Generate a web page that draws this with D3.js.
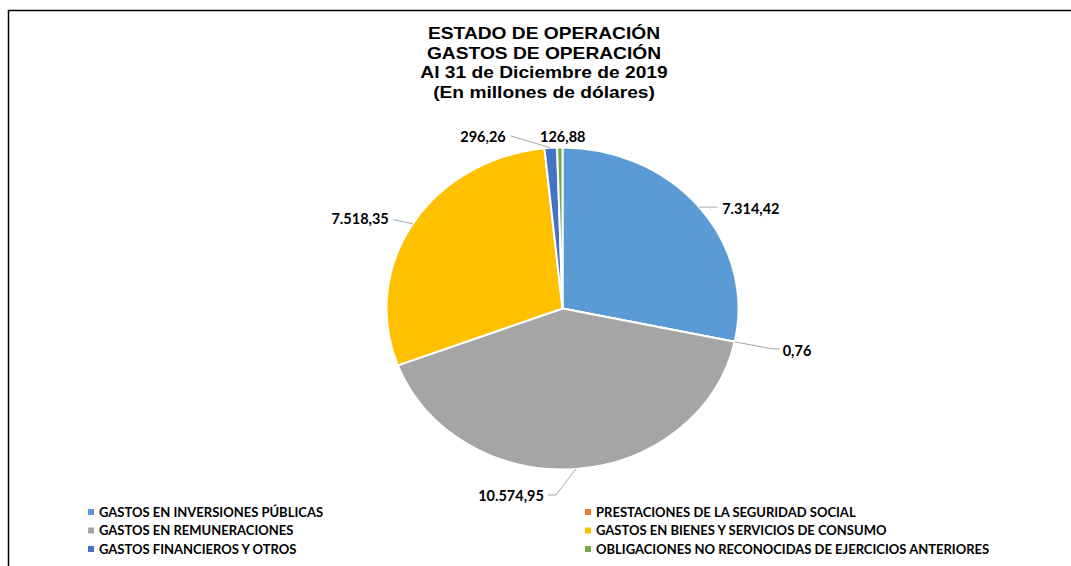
<!DOCTYPE html>
<html lang="es">
<head>
<meta charset="UTF-8">
<title>Estado de Operación - Gastos de Operación 2019</title>
<script src="https://d3js.org/d3.v7.min.js"></script>
<style>
  html, body { margin: 0; padding: 0; background: #fff; }
  svg { display: block; }
  .title { font-family: "Liberation Sans", Arial, sans-serif; font-weight: bold; font-size: 16px; fill: #000; }
  .lbl { font-family: Lato, "Open Sans", sans-serif; font-weight: bold; font-size: 14.5px; fill: #000; }
  .leg { font-family: Lato, "Open Sans", sans-serif; font-weight: bold; font-size: 13px; fill: #000; }
</style>
</head>
<body>
<div id="chart"></div>
<script>
// data
const categories = [
  "GASTOS EN INVERSIONES PÚBLICAS",
  "PRESTACIONES DE LA SEGURIDAD SOCIAL",
  "GASTOS EN REMUNERACIONES",
  "GASTOS EN BIENES Y SERVICIOS DE CONSUMO",
  "GASTOS FINANCIEROS Y OTROS",
  "OBLIGACIONES NO RECONOCIDAS DE EJERCICIOS ANTERIORES"
];
const values = [7314.42, 0.76, 10574.95, 7518.35, 296.26, 126.88];
const valueLabels = ["7.314,42", "0,76", "10.574,95", "7.518,35", "296,26", "126,88"];
const colors = ["#5B9BD5", "#ED7D31", "#A5A5A5", "#FFC000", "#4472C4", "#70AD47"];
const titleLines = [
  "ESTADO DE OPERACIÓN",
  "GASTOS DE OPERACIÓN",
  "Al 31 de Diciembre de 2019",
  "(En millones de dólares)"
];

// layout
const W = 1071, H = 566;
const cx = 562.5, cy = 308.5, rx = 176, ry = 161;

// label leader offsets from the slice edge point: [elbow, end, text pos, anchor]
const labelLayout = [
  { elbow: [18, 0],   end: [18, 0],   text: [23, 2],   anchor: "start", line: true },
  { elbow: [37, 7],   end: [45, 7],   text: [48, 9],   anchor: "start", line: true },
  { elbow: [-20, 26], end: [-28, 26], text: [-32, 27], anchor: "end",   line: true },
  { elbow: [-18, -4], end: [-20, -4], text: [-24, -5], anchor: "end",   line: true },
  { elbow: [-40, -12],end: [-40, -12],text: [-45, -11],anchor: "end",   line: true },
  { elbow: [0, 0],    end: [0, 0],    text: [3, -11],  anchor: "middle",line: false }
];

const svg = d3.select("#chart").append("svg")
  .attr("width", W).attr("height", H);

svg.append("rect").attr("width", W).attr("height", H).attr("fill", "#fff");

// outer frame (top and left edges visible)
svg.append("path")
  .attr("d", `M8.5,${H} L8.5,10.5 L${W},10.5`)
  .attr("fill", "none")
  .attr("stroke", "#000")
  .attr("stroke-width", 1.5);

// title (the original is a bit stretched horizontally)
svg.append("g")
  .attr("transform", "translate(544,0) scale(1.2,1)")
  .selectAll("text")
  .data(titleLines)
  .enter().append("text")
  .attr("class", "title")
  .attr("x", 0)
  .attr("y", (d, i) => 39 + i * 19.6)
  .attr("text-anchor", "middle")
  .text(d => d);

// pie
const pie = d3.pie().sort(null).value(d => d)(values);
const arc = d3.arc().innerRadius(0).outerRadius(rx);

const pieG = svg.append("g")
  .attr("transform", `translate(${cx},${cy}) scale(1,${ry / rx})`);

pieG.selectAll("path")
  .data(pie)
  .enter().append("path")
  .attr("d", arc)
  .attr("fill", (d, i) => colors[i])
  .attr("stroke", "#fff")
  .attr("stroke-width", 2)
  .attr("vector-effect", "non-scaling-stroke");

// point on the (stretched) pie edge
function edge(a) {
  return [cx + Math.sin(a) * rx, cy - Math.cos(a) * ry];
}

const labG = svg.append("g");
pie.forEach((d, i) => {
  const mid = (d.startAngle + d.endAngle) / 2;
  const p = edge(mid);
  const L = labelLayout[i];
  if (L.line) {
    labG.append("polyline")
      .attr("points", [p, [p[0] + L.elbow[0], p[1] + L.elbow[1]], [p[0] + L.end[0], p[1] + L.end[1]]].map(q => q.join(",")).join(" "))
      .attr("fill", "none")
      .attr("stroke", "#A6A6A6")
      .attr("stroke-width", 1);
  }
  labG.append("text")
    .attr("class", "lbl")
    .attr("x", p[0] + L.text[0])
    .attr("y", p[1] + L.text[1])
    .attr("dy", "0.35em")
    .attr("text-anchor", L.anchor)
    .text(valueLabels[i]);
});

// legend: two columns, three rows
const legX = [88, 585], legY0 = 512, legStep = 18.5;
const leg = svg.append("g").selectAll("g")
  .data(categories)
  .enter().append("g")
  .attr("transform", (d, i) => `translate(${legX[i % 2]},${legY0 + Math.floor(i / 2) * legStep})`);

leg.append("rect")
  .attr("x", 0).attr("y", -3)
  .attr("width", 6).attr("height", 6)
  .attr("fill", (d, i) => colors[i]);

leg.append("text")
  .attr("class", "leg")
  .attr("x", 11)
  .attr("y", 0)
  .attr("dy", "0.35em")
  .text(d => d);
</script>
</body>
</html>
